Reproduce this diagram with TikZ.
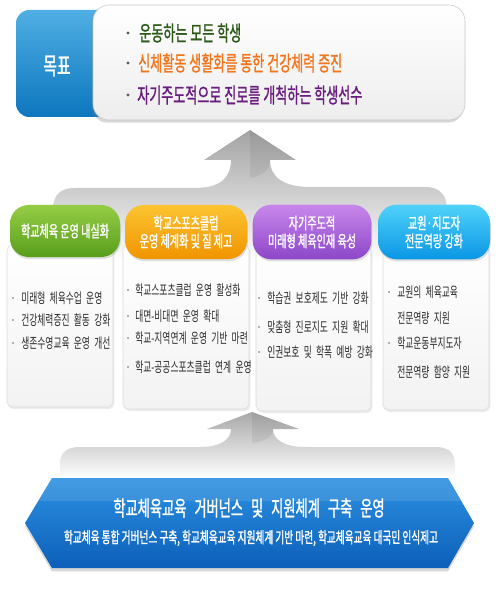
\documentclass[tikz,border=0pt]{standalone}
\usepackage{fontspec}
\setmainfont{Noto Sans CJK KR}[FakeStretch=0.62]
\newfontfamily\krb{Noto Sans CJK KR}[FakeStretch=0.62,FakeBold=1.2]
\usetikzlibrary{shadows}
\definecolor{tabtop}{RGB}{80,175,228}
\definecolor{tabbot}{RGB}{12,118,190}
\definecolor{ggreen}{RGB}{45,90,25}
\definecolor{gorange}{RGB}{242,118,30}
\definecolor{gpurple}{RGB}{105,30,125}
\definecolor{greentop}{RGB}{150,205,70}
\definecolor{greenbot}{RGB}{88,158,28}
\definecolor{orangetop}{RGB}{252,196,50}
\definecolor{orangebot}{RGB}{240,148,0}
\definecolor{purpletop}{RGB}{200,135,235}
\definecolor{purplebot}{RGB}{140,70,200}
\definecolor{bluetop}{RGB}{80,210,250}
\definecolor{bluebot}{RGB}{10,150,228}
\definecolor{bantop}{RGB}{45,145,225}
\definecolor{banbot}{RGB}{12,95,185}
\definecolor{itemtxt}{RGB}{45,45,45}
\newcommand\widesp[1]{\spaceskip=#1\relax}
\tikzset{
  goaltxt/.style={anchor=west, inner sep=0pt, font=\krb\fontsize{15.8}{18}\selectfont},
  gbullet/.style={circle, fill=black!65, inner sep=0pt, minimum size=2.6pt},
  pill/.style={rounded corners=14pt, text=white, align=center, inner sep=0pt,
    font=\krb\fontsize{12.2}{13.5}\selectfont,
    drop shadow={opacity=0.25, shadow xshift=0.6pt, shadow yshift=-1.6pt}},
  panel/.style={rounded corners=4pt, draw=black!14, top color=white, bottom color=black!5,
    drop shadow={opacity=0.15, shadow xshift=1pt, shadow yshift=-1.5pt}},
  item/.style={anchor=west, inner sep=0pt, text=itemtxt,
    font=\fontsize{10.6}{12}\selectfont, execute at begin node={\widesp{3.2pt}}},
  ibullet/.style={rectangle, fill=black!30, inner sep=0pt, minimum size=1.9pt},
}
\begin{document}
\begin{tikzpicture}[x=0.75pt,y=-0.75pt]
\useasboundingbox (0,0) rectangle (500,595);
\fill[white] (0,0) rectangle (500,595);

% ---------- upper gray arrow ----------
\shade[top color=black!36, bottom color=white]
  (250,130) -- (296,160) -- (270,160) .. controls (270,178) and (285,187) .. (310,187)
  -- (425,187) .. controls (440,187) and (447,195) .. (447,210) -- (447,262)
  -- (53,262) -- (53,210) .. controls (53,195) and (60,188) .. (75,188)
  -- (195,188) .. controls (220,188) and (231,178) .. (231,160) -- (204,160) -- cycle;
\fill[black, opacity=0.06] (250,130) -- (296,160) -- (270,160) .. controls (270,170) and (262,176) .. (250,178) -- cycle;

% ---------- lower gray arrow ----------
\shade[top color=black!34, bottom color=white]
  (252,412) -- (299,429) -- (273,429) .. controls (273,440) and (285,447) .. (305,447)
  -- (435,447) .. controls (448,447) and (455,452) .. (455,465) -- (455,478)
  -- (60,478) -- (60,465) .. controls (60,452) and (67,447) .. (80,447)
  -- (200,447) .. controls (220,447) and (231,440) .. (231,429) -- (207,429) -- cycle;
\fill[black, opacity=0.06] (252,412) -- (299,429) -- (273,429) .. controls (273,437) and (265,441) .. (252,443) -- cycle;

% ---------- goal box ----------
\path[rounded corners=10pt, top color=tabtop, bottom color=tabbot]
  (16,10) rectangle (118,117);
\node[font=\krb\fontsize{18}{20}\selectfont, text=white, inner sep=0pt] (goal) at (57,66) {목표};
\path[rounded corners=12pt, draw=black!22, top color=white, bottom color=black!7,
  drop shadow={opacity=0.3, shadow xshift=-1pt, shadow yshift=-2pt}]
  (93,5) rectangle (465,120);
\node[gbullet] (gb1) at (128,33) {};
\node[goaltxt, text=ggreen] (g1) at (139,33) {운동하는 모든 학생};
\node[gbullet] (gb2) at (128,63) {};
\node[goaltxt, text=gorange] (g2) at (138,63) {신체활동 생활화를 통한 건강체력 증진};
\node[gbullet] (gb3) at (128,95) {};
\node[goaltxt, text=gpurple] (g3) at (137,95) {자기주도적으로 진로를 개척하는 학생선수};

% ---------- panels ----------
\path[panel] (7,245) rectangle (113,407);
\path[panel] (123,245) rectangle (249,409);
\path[panel] (256,245) rectangle (371,411);
\path[panel] (383,245) rectangle (489,410);

% ---------- pills ----------
\node[pill, top color=greentop, bottom color=greenbot, minimum width=82.5pt, minimum height=39pt]
  (p1) at (65,231) {학교체육 운영 내실화};
\node[pill, top color=orangetop, bottom color=orangebot, minimum width=91.5pt, minimum height=40.5pt]
  (p2) at (186,232) {학교스포츠클럽\\운영 체계화 및 질 제고};
\node[pill, top color=purpletop, bottom color=purplebot, minimum width=89pt, minimum height=41pt]
  (p3) at (312,232) {자기주도적\\미래형 체육인재 육성};
\node[pill, top color=bluetop, bottom color=bluebot, minimum width=84pt, minimum height=41pt]
  (p4) at (434,232) {교원·지도자\\전문역량 강화};

% ---------- column 1 items ----------
\node[ibullet] (b11) at (13,298) {};
\node[item] (t11) at (21,298) {미래형 체육수업 운영};
\node[ibullet] (b12) at (13,320) {};
\node[item] (t12) at (21,320) {건강체력증진 활동 강화};
\node[ibullet] (b13) at (13,343) {};
\node[item] (t13) at (21,343) {생존수영교육 운영 개선};

% ---------- column 2 items ----------
\node[ibullet] (b21) at (128,290) {};
\node[item] (t21) at (135,290) {학교스포츠클럽 운영 활성화};
\node[ibullet] (b22) at (128,316) {};
\node[item] (t22) at (135,316) {대면-비대면 운영 확대};
\node[ibullet] (b23) at (128,338) {};
\node[item] (t23) at (135,338) {학교-지역연계 운영 기반 마련};
\node[ibullet] (b24) at (128,367) {};
\node[item] (t24) at (135,367) {학교-공공스포츠클럽 연계 운영};

% ---------- column 3 items ----------
\node[ibullet] (b31) at (259,298) {};
\node[item] (t31) at (267,298) {학습권 보호제도 기반 강화};
\node[ibullet] (b32) at (259,327) {};
\node[item] (t32) at (267,327) {맞춤형 진로지도 지원 확대};
\node[ibullet] (b33) at (259,352) {};
\node[item] (t33) at (267,352) {인권보호 및 학폭 예방 강화};

% ---------- column 4 items ----------
\node[ibullet] (b41) at (389,292) {};
\node[item] (t41) at (397,292) {교원의 체육교육};
\node[item] (t42) at (397,318) {전문역량 지원};
\node[ibullet] (b43) at (389,343) {};
\node[item] (t43) at (397,343) {학교운동부지도자};
\node[item] (t44) at (397,372) {전문역량 함양 지원};

% ---------- bottom banner ----------
\path[top color=bantop, bottom color=banbot,
  drop shadow={opacity=0.3, shadow xshift=0pt, shadow yshift=-2.5pt}]
  (25,523) -- (52,478) -- (448,478) -- (474,523) -- (448,568) -- (52,568) -- cycle;
\fill[white, opacity=0.10] (38,501) -- (52,478) -- (448,478) -- (461,501) -- cycle;
\node[font=\krb\fontsize{16}{19}\selectfont, execute at begin node={\widesp{6pt}}, text=white, inner sep=0pt]
  (bmain) at (249,508) {학교체육교육 거버넌스 및 지원체계 구축 운영};
\node[font=\krb\fontsize{11.7}{13}\selectfont, text=white, inner sep=0pt]
  (bsub) at (251,538) {학교체육 통합 거버넌스 구축, 학교체육교육 지원체계 기반 마련, 학교체육교육 대국민 인식제고};
\end{tikzpicture}
\end{document}
